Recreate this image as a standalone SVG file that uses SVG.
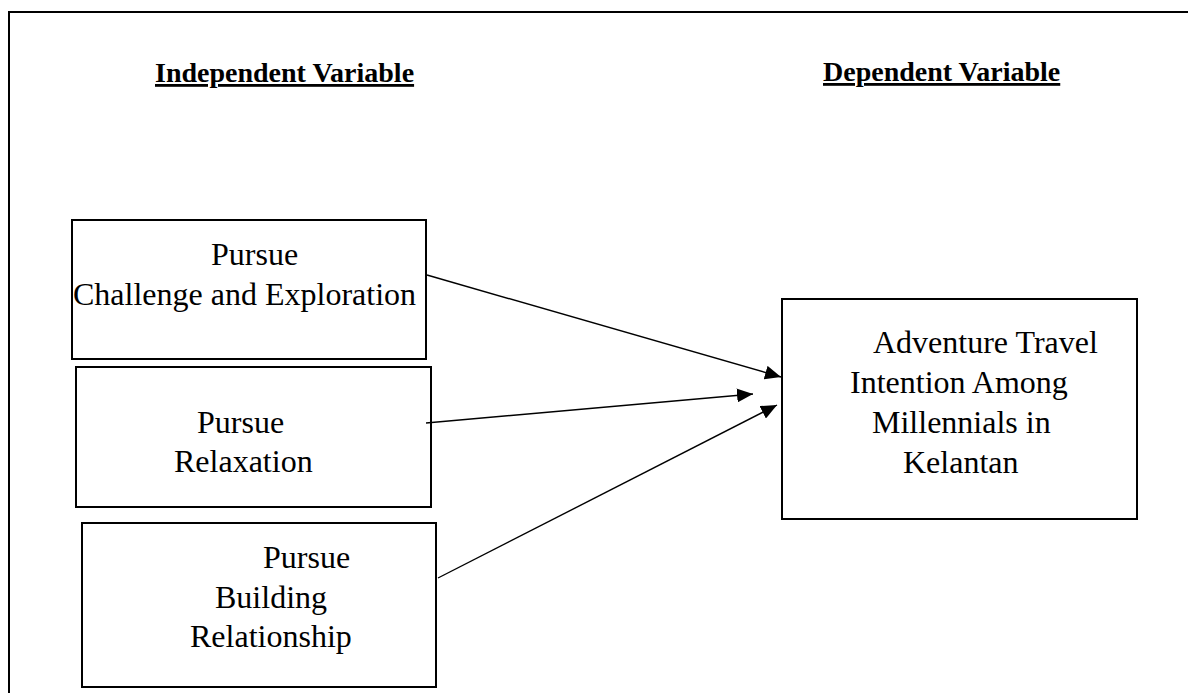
<svg xmlns="http://www.w3.org/2000/svg" width="1188" height="693" viewBox="0 0 1188 693">
<style>
.frame{fill:none;stroke:#000;stroke-width:2}
.box{fill:#fff;stroke:#000;stroke-width:2}
.t{font-family:"Liberation Serif","Times New Roman",serif;font-size:32px;fill:#000}
.h{font-family:"Liberation Serif","Times New Roman",serif;font-size:28px;font-weight:bold;fill:#000;text-decoration:underline}
.c{stroke:#000;stroke-width:1.4;fill:none}
</style>
<defs>
<marker id="ah" markerUnits="userSpaceOnUse" markerWidth="16" markerHeight="14" viewBox="0 0 16 14" refX="16" refY="7" orient="auto">
<path d="M0,0 L16,7 L0,14 z" fill="#000"/>
</marker>
</defs>
<rect width="1188" height="693" fill="#fff"/>
<path class="frame" d="M9,693 V12 H1188"/>
<g id="titles">
<text class="h" x="155" y="82">Independent Variable</text>
<text class="h" x="823" y="81">Dependent Variable</text>
</g>
<g id="n1">
<rect class="box" x="72" y="220" width="354" height="139"/>
<text class="t" x="211" y="265">Pursue</text>
<text class="t" x="73" y="305">Challenge and Exploration</text>
</g>
<g id="n2">
<rect class="box" x="76" y="367" width="355" height="140"/>
<text class="t" x="197" y="433">Pursue</text>
<text class="t" x="174" y="472">Relaxation</text>
</g>
<g id="n3">
<rect class="box" x="82" y="523" width="354" height="164"/>
<text class="t" x="263" y="568">Pursue</text>
<text class="t" x="215" y="608">Building</text>
<text class="t" x="190" y="647">Relationship</text>
</g>
<g id="n4">
<rect class="box" x="782" y="299" width="355" height="220"/>
<text class="t" x="873" y="353">Adventure Travel</text>
<text class="t" x="850" y="393">Intention Among</text>
<text class="t" x="872" y="433">Millennials in</text>
<text class="t" x="903" y="473">Kelantan</text>
</g>
<g id="connectors">
<line class="c" x1="427" y1="275" x2="781" y2="377" marker-end="url(#ah)"/>
<line class="c" x1="426" y1="423" x2="753" y2="394" marker-end="url(#ah)"/>
<line class="c" x1="438" y1="578" x2="777" y2="405" marker-end="url(#ah)"/>
</g>
</svg>
